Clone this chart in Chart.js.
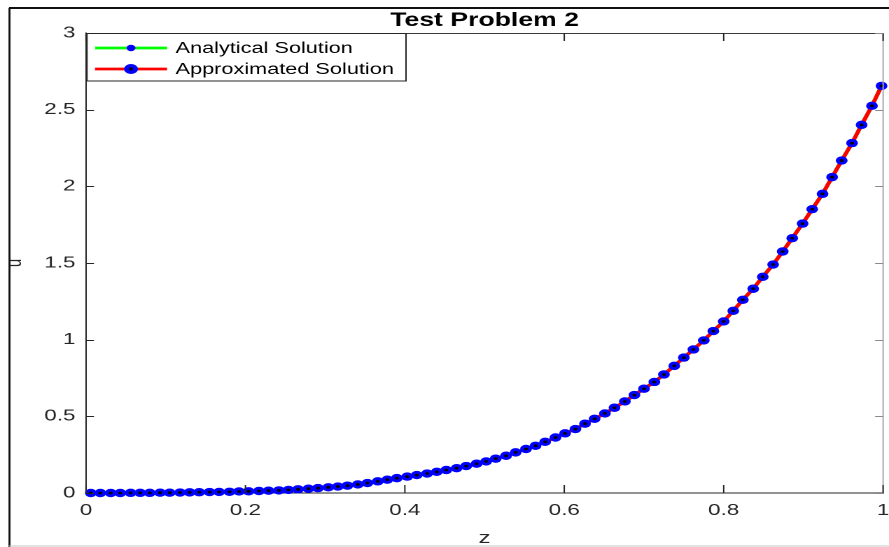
<!DOCTYPE html>
<html>
<head>
<meta charset="utf-8">
<title>Test Problem 2</title>
<script src="https://cdn.jsdelivr.net/npm/chart.js@4.4.1/dist/chart.umd.min.js"></script>
<style>
  html, body { margin: 0; padding: 0; background: #fff; overflow: hidden; }
  /* the figure is drawn narrow and stretched sideways to the final width */
  #wrap { position: absolute; left: 0; top: 0; width: 635px; height: 547px; transform: scaleX(1.4); transform-origin: 0 0; }
</style>
</head>
<body>
<div id="wrap"><canvas id="grafico"></canvas></div>
<script>
const SX = 1.4; // horizontal stretch of the figure

// grid points z
const zVals = [
  0.006, 0.018, 0.031, 0.043, 0.056, 0.068, 0.080, 0.093, 0.105, 0.118,
  0.130, 0.142, 0.155, 0.167, 0.180, 0.192, 0.204, 0.217, 0.229, 0.242,
  0.254, 0.266, 0.279, 0.291, 0.304, 0.316, 0.328, 0.341, 0.353, 0.366,
  0.378, 0.390, 0.403, 0.415, 0.428, 0.440, 0.452, 0.465, 0.477, 0.490,
  0.502, 0.514, 0.527, 0.539, 0.552, 0.564, 0.576, 0.589, 0.601, 0.614,
  0.626, 0.638, 0.651, 0.663, 0.676, 0.688, 0.700, 0.713, 0.725, 0.738,
  0.750, 0.762, 0.775, 0.787, 0.800, 0.812, 0.824, 0.837, 0.849, 0.862,
  0.874, 0.886, 0.899, 0.911, 0.924, 0.936, 0.948, 0.961, 0.973, 0.986,
  0.998
];

// u(z), analytical solution
const analytical = [
  0.000, 0.000, 0.000, 0.000, 0.001, 0.001, 0.001, 0.002, 0.002, 0.003,
  0.004, 0.005, 0.006, 0.007, 0.008, 0.010, 0.011, 0.013, 0.015, 0.017,
  0.020, 0.024, 0.028, 0.032, 0.037, 0.042, 0.048, 0.056, 0.065, 0.076,
  0.087, 0.097, 0.107, 0.117, 0.127, 0.138, 0.150, 0.162, 0.176, 0.191,
  0.206, 0.224, 0.243, 0.265, 0.287, 0.308, 0.334, 0.362, 0.389, 0.417,
  0.452, 0.484, 0.519, 0.556, 0.597, 0.639, 0.680, 0.724, 0.773, 0.829,
  0.883, 0.936, 0.995, 1.056, 1.119, 1.188, 1.260, 1.332, 1.410, 1.490,
  1.575, 1.662, 1.757, 1.851, 1.951, 2.060, 2.168, 2.282, 2.401, 2.525,
  2.655
];

// u(z), approximated solution
const approximated = [
  0.000, 0.000, 0.000, 0.000, 0.001, 0.001, 0.001, 0.002, 0.002, 0.003,
  0.004, 0.005, 0.006, 0.007, 0.008, 0.010, 0.011, 0.013, 0.015, 0.017,
  0.020, 0.024, 0.028, 0.032, 0.037, 0.042, 0.048, 0.056, 0.065, 0.076,
  0.087, 0.097, 0.107, 0.117, 0.127, 0.138, 0.150, 0.162, 0.176, 0.191,
  0.206, 0.224, 0.243, 0.265, 0.287, 0.308, 0.334, 0.362, 0.389, 0.417,
  0.452, 0.484, 0.519, 0.556, 0.597, 0.639, 0.680, 0.724, 0.773, 0.829,
  0.883, 0.936, 0.995, 1.056, 1.119, 1.188, 1.260, 1.332, 1.410, 1.490,
  1.575, 1.662, 1.757, 1.851, 1.951, 2.060, 2.168, 2.282, 2.401, 2.525,
  2.655
];

const xTicks = [0, 0.2, 0.4, 0.6, 0.8, 1];
const yTicks = [0, 0.5, 1, 1.5, 2, 2.5, 3];

const seriesNames = ["Analytical Solution", "Approximated Solution"];
const axisColor = "#262626";
const FONT = "'Liberation Sans', Arial, sans-serif";

function puntos(vals) {
  return zVals.map((z, i) => ({ x: z, y: vals[i] }));
}

// tick text without trailing zeros (1 instead of 1.0)
const etiqueta = v => String(+Number(v).toFixed(2));

// ticks pointing inward on all four sides, the box, the outer frame and the legend
const marco = {
  id: "marco",
  afterDraw(chart) {
    const ctx = chart.ctx;
    const a = chart.chartArea;
    const xs = chart.scales.x, ys = chart.scales.y;
    const W = chart.width, H = chart.height;
    ctx.save();

    // top and right edges of the axes box
    ctx.lineWidth = 1;
    ctx.strokeStyle = "#3a3a3a";
    ctx.beginPath(); ctx.moveTo(a.left, a.top + 0.5); ctx.lineTo(a.right, a.top + 0.5); ctx.stroke();
    ctx.strokeStyle = "#a8a8a8";
    ctx.beginPath(); ctx.moveTo(a.right, a.top); ctx.lineTo(a.right, a.bottom); ctx.stroke();

    // tick marks
    ctx.strokeStyle = axisColor;
    const tl = 8;
    xTicks.forEach(v => {
      const px = xs.getPixelForValue(v);
      ctx.beginPath(); ctx.moveTo(px, a.bottom); ctx.lineTo(px, a.bottom - tl); ctx.stroke();
      ctx.beginPath(); ctx.moveTo(px, a.top); ctx.lineTo(px, a.top + tl); ctx.stroke();
    });
    yTicks.forEach(v => {
      const py = Math.round(ys.getPixelForValue(v)) + 0.5;
      ctx.strokeStyle = axisColor;
      ctx.beginPath(); ctx.moveTo(a.left, py); ctx.lineTo(a.left + tl / SX, py); ctx.stroke();
      ctx.strokeStyle = "#8a8a8a";
      ctx.beginPath(); ctx.moveTo(a.right, py); ctx.lineTo(a.right - tl / SX, py); ctx.stroke();
    });

    // outer figure frame
    ctx.strokeStyle = "#111";
    ctx.lineWidth = 2;
    ctx.beginPath(); ctx.moveTo(9 / SX, 8); ctx.lineTo(W, 8); ctx.stroke();
    ctx.lineWidth = 2 / SX;
    ctx.beginPath(); ctx.moveTo(9.5 / SX, 8); ctx.lineTo(9.5 / SX, H); ctx.stroke();
    ctx.strokeStyle = "#c4c4c4";
    ctx.lineWidth = 1;
    ctx.beginPath(); ctx.moveTo(9 / SX, 546); ctx.lineTo(W, 546); ctx.stroke();

    // legend
    const lx = 87 / SX, lr = 406 / SX, lt = 33.5, lb = 81;
    ctx.fillStyle = "#fff";
    ctx.fillRect(lx, lt, lr - lx, lb - lt);
    ctx.strokeStyle = axisColor;
    ctx.lineWidth = 1;
    ctx.strokeRect(lx, lt, lr - lx, lb - lt);

    const x0 = 95 / SX, x1 = 167 / SX, xm = 131 / SX, xt = 175.5 / SX;
    const filas = [
      { y: 48, line: "#00ff00", r: 3.2, dot: 0 },
      { y: 69, line: "#ff0000", r: 5, dot: 1.5 }
    ];
    filas.forEach((f, i) => {
      ctx.strokeStyle = f.line;
      ctx.lineWidth = 2.8;
      ctx.beginPath(); ctx.moveTo(x0, f.y); ctx.lineTo(x1, f.y); ctx.stroke();
      ctx.fillStyle = "#0000ff";
      ctx.beginPath(); ctx.arc(xm, f.y, f.r, 0, Math.PI * 2); ctx.fill();
      if (f.dot) {
        ctx.fillStyle = "#000";
        ctx.beginPath(); ctx.arc(xm, f.y, f.dot, 0, Math.PI * 2); ctx.fill();
      }
      ctx.fillStyle = "#000";
      ctx.font = "15.5px " + FONT;
      ctx.textAlign = "left";
      ctx.textBaseline = "middle";
      ctx.fillText(seriesNames[i], xt, f.y + 0.5);
    });

    ctx.restore();
  }
};

const ctx = document.getElementById("grafico").getContext("2d");
const chart = new Chart(ctx, {
  type: "line",
  data: {
    datasets: [
      {
        // black centres of the approximated markers
        label: "centros",
        data: puntos(approximated),
        showLine: false,
        pointRadius: 1.4,
        pointBackgroundColor: "#000",
        pointBorderWidth: 0,
        order: 0,
        clip: false
      },
      {
        label: seriesNames[1],
        data: puntos(approximated),
        borderColor: "#ff0000",
        borderWidth: 3,
        pointRadius: 4.2,
        pointBackgroundColor: "#0000ff",
        pointBorderWidth: 0,
        order: 1,
        clip: false
      },
      {
        label: seriesNames[0],
        data: puntos(analytical),
        borderColor: "#00ff00",
        borderWidth: 3,
        pointRadius: 2,
        pointBackgroundColor: "#0000ff",
        pointBorderWidth: 0,
        order: 2,
        clip: false
      }
    ]
  },
  options: {
    responsive: true,
    maintainAspectRatio: false,
    devicePixelRatio: 2,
    animation: false,
    layout: { padding: { left: 0, right: 889 / SX - 887 / SX, top: 0, bottom: 0 } },
    plugins: {
      legend: { display: false },
      tooltip: { enabled: false },
      title: {
        display: true,
        fullSize: false,
        text: "Test Problem 2",
        color: "#000",
        font: { family: FONT, size: 19, weight: "bold", lineHeight: 1.2 },
        padding: { top: 9.5, bottom: 33 - 9.5 - 22.8 }
      }
    },
    scales: {
      x: {
        type: "linear",
        min: 0,
        max: 1,
        afterBuildTicks: s => { s.ticks = xTicks.map(v => ({ value: v })); },
        ticks: {
          color: axisColor,
          font: { family: FONT, size: 16 },
          padding: 8,
          maxRotation: 0,
          autoSkip: false,
          callback: etiqueta
        },
        grid: { display: true, drawOnChartArea: false, drawTicks: false },
        border: { display: true, color: axisColor, width: 1 },
        title: {
          display: true,
          text: "z",
          color: axisColor,
          font: { family: FONT, size: 17, lineHeight: 1 },
          padding: { top: 0, bottom: 0 }
        },
        afterFit: s => { s.height = 54; s.paddingLeft = 0; s.paddingRight = 0; }
      },
      y: {
        type: "linear",
        min: 0,
        max: 3,
        afterBuildTicks: s => { s.ticks = yTicks.map(v => ({ value: v })); },
        ticks: {
          color: axisColor,
          font: { family: FONT, size: 16 },
          padding: 7.5,
          autoSkip: false,
          callback: etiqueta
        },
        grid: { display: true, drawOnChartArea: false, drawTicks: false },
        border: { display: true, color: axisColor, width: 1 },
        title: {
          display: true,
          text: "u",
          color: axisColor,
          font: { family: FONT, size: 15, lineHeight: 1.2 },
          padding: { top: 2, bottom: 0 }
        },
        afterFit: s => { s.width = 86 / SX; }
      }
    }
  },
  plugins: [marco]
});
</script>
</body>
</html>
